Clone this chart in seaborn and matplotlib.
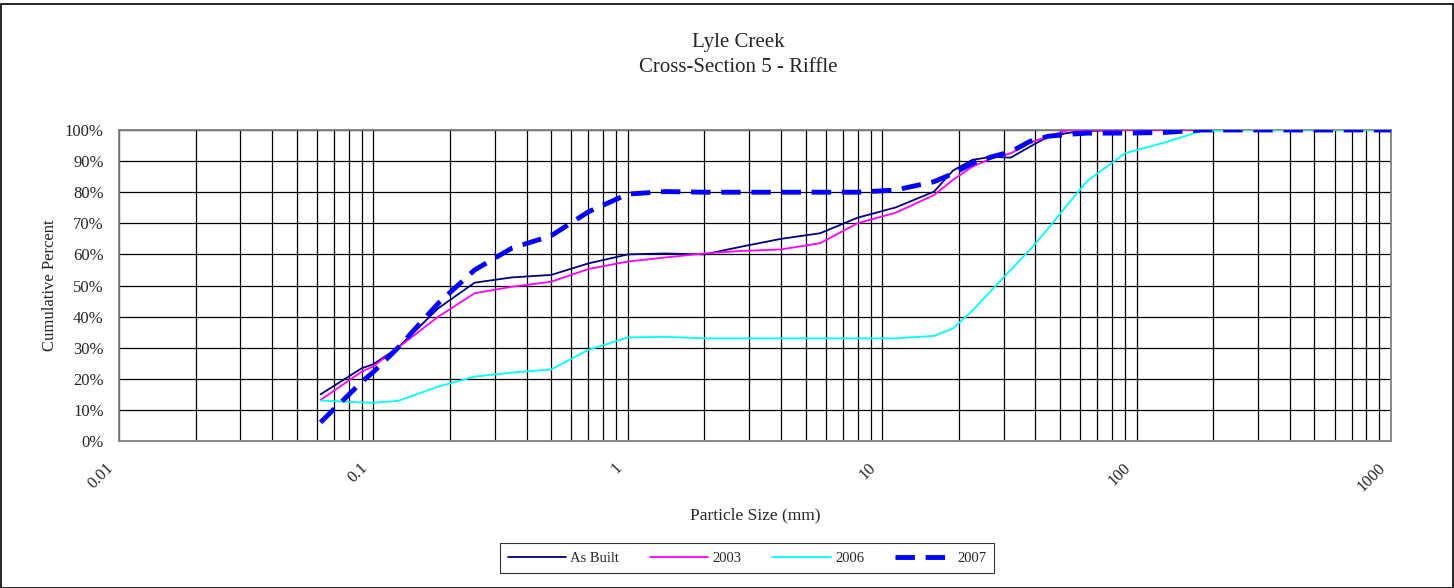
import matplotlib
matplotlib.use("Agg")
import matplotlib.pyplot as plt
import matplotlib.transforms as mtransforms
from matplotlib.ticker import LogLocator, FixedLocator, FuncFormatter, NullFormatter
from matplotlib.patches import Rectangle
import seaborn as sns
import pandas as pd

sizes = [0.062, 0.09, 0.1, 0.125, 0.18, 0.25, 0.35, 0.5, 0.7, 1, 1.4, 2, 2.8, 4, 5.7, 8,
         11.3, 16, 19, 22.6, 27, 32, 38, 45, 54, 64, 90, 128, 180, 256, 512, 1000]
as_built = [15, 23.4, 24.7, 30, 42.7, 50.9, 52.6, 53.4, 57.1, 60, 60.3, 60, 62.5, 65, 66.8, 71.8,
            75.1, 80.2, 87, 90.4, 91.4, 91.1, 94.6, 97.9, 99.1, 99.7, 100, 100, 100, 100, 100, 100]
y2003 = [13.2, 22.3, 24, 30, 40, 47.5, 49.6, 51.2, 55.3, 57.7, 59, 60.3, 61.1, 61.6, 63.6, 70,
         73.4, 79.1, 84, 88.2, 90.9, 92.5, 95.9, 98, 100, 100, 100, 100, 100, 100, 100, 100]
y2006 = [13, 12.4, 12.3, 12.9, 17.5, 20.7, 22, 23, 29.3, 33.3, 33.5, 33, 33, 33, 33, 33,
         33, 33.8, 36.2, 41.9, 48.6, 55, 61.4, 68.4, 76.4, 83.6, 92.5, 95.9, 99.7, 100, 100, 100]
y2007 = [6, 19, 22.2, 30, 44.3, 55, 62, 66, 73.7, 79.4, 80.2, 80, 80, 80, 80, 80,
         80.7, 83.4, 86, 89.3, 91.4, 93, 96.3, 98, 98.6, 99, 99, 99.2, 100, 100, 100, 100]

series_names = ["As Built", "2003", "2006", "2007"]
series_vals = [as_built, y2003, y2006, y2007]
colors = {"As Built": "#000080", "2003": "#FF00FF", "2006": "#00FFFF", "2007": "#0000FF"}

sns.set_style("white")
plt.rcParams["font.family"] = ["Liberation Serif", "DejaVu Serif"]

fig = plt.figure(figsize=(14.54, 5.88), dpi=100)
ax = fig.add_axes([119 / 1454, 1 - 441 / 588, (1391 - 119) / 1454, (441 - 130) / 588])

for name, vals in zip(series_names, series_vals):
    df = pd.DataFrame({"size": sizes, "pct": vals})
    if name == "2007":
        sns.lineplot(data=df, x="size", y="pct", ax=ax, color=colors[name], lw=3.5,
                     label=name, sort=False, zorder=5)
        ax.lines[-1].set_dashes((4, 2.2))
    else:
        sns.lineplot(data=df, x="size", y="pct", ax=ax, color=colors[name], lw=1.3,
                     label=name, sort=False, zorder=4)

ax.set_xscale("log")
ax.set_xlim(0.01, 1000)
ax.set_ylim(0, 100)

ax.xaxis.set_major_locator(FixedLocator([0.01, 0.1, 1, 10, 100, 1000]))
ax.xaxis.set_minor_locator(LogLocator(base=10, subs=range(2, 10), numticks=20))
ax.xaxis.set_minor_formatter(NullFormatter())
ax.xaxis.set_major_formatter(FuncFormatter(lambda v, p: f"{v:g}"))
ax.set_yticks(range(0, 101, 10))
ax.yaxis.set_major_formatter(FuncFormatter(lambda v, p: f"{int(v)}%"))

ax.grid(True, which="both", axis="x", color="black", lw=0.9)
ax.grid(True, which="major", axis="y", color="black", lw=0.9)
ax.set_axisbelow(True)

for s in ax.spines.values():
    s.set_color("#808080")
    s.set_linewidth(1.3)

ax.tick_params(axis="x", which="major", length=5, width=1, color="#808080",
               direction="out", labelsize=12, pad=13)
ax.tick_params(axis="x", which="minor", length=0)
ax.tick_params(axis="y", length=3, width=1, color="#808080", direction="out",
               labelsize=12, pad=8)
shift = mtransforms.ScaledTranslation(-0.14, 0.06, fig.dpi_scale_trans)
for lab in ax.get_xticklabels():
    lab.set_rotation(45)
    lab.set_ha("right")
    lab.set_va("top")
    lab.set_rotation_mode("anchor")
    lab.set_transform(lab.get_transform() + shift)

ax.set_xlabel("Particle Size (mm)", fontsize=12.5, labelpad=9)
ax.set_ylabel("Cumulative Percent", fontsize=12, labelpad=5)
fig.text(738 / 1454, 1 - 43 / 588, "Lyle Creek", ha="center", va="center", fontsize=15)
fig.text(738 / 1454, 1 - 67 / 588, "Cross-Section 5 - Riffle", ha="center", va="center", fontsize=15)

handles, labels = ax.get_legend_handles_labels()
ax.legend(handles, labels, loc="center", bbox_to_anchor=(747 / 1454, 1 - 558 / 588),
          bbox_transform=fig.transFigure, ncol=4, frameon=True, fancybox=False,
          edgecolor="black", fontsize=10.5, handlelength=4.0, columnspacing=2.1,
          handletextpad=0.3, borderpad=0.55, borderaxespad=0)
ax.get_legend().get_frame().set_linewidth(0.8)

fig.patches.append(Rectangle((0.0005, 0), 0.999, 0.994, transform=fig.transFigure,
                             fill=False, edgecolor="black", lw=1.2))

fig.savefig("out.png", dpi=100, facecolor="white")
